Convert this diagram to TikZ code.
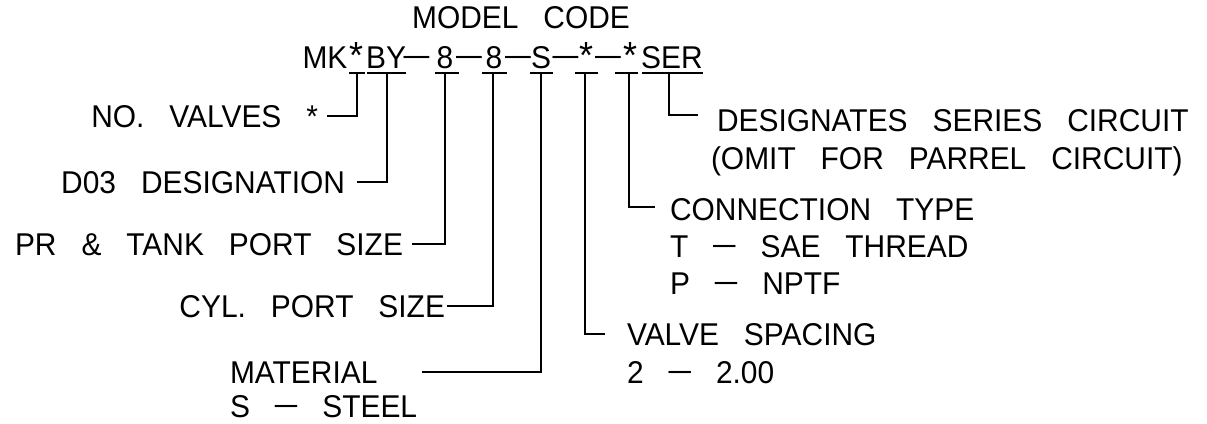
\documentclass[tikz,border=0pt]{standalone}
\usepackage{graphicx}
\usepackage{fontspec}
\setmainfont{Liberation Sans}[FakeStretch=0.95,WordSpace=3.0]
\newcommand\cdash{\raisebox{2.6pt}{\scalebox{1.35}[1]{–}}}
\newcommand\kdash{\raisebox{2.6pt}{\scalebox{1.55}[1]{–}}}
\newcommand\kstar{\scalebox{1.2}{*}}
\tikzset{
  lbl/.style={inner sep=0pt, outer sep=0pt, font=\fontsize{31.5}{36}\selectfont, text=black},
  lead/.style={line width=2pt, black},
  uline/.style={line width=2pt, black}
}
\begin{document}
\begin{tikzpicture}[x=1pt,y=-1pt]
\useasboundingbox[fill=white] (0,0) rectangle (1207,423);

% title
\node[lbl,anchor=base] (title) at (521,28) {MODEL CODE};

% model code tokens
\node[lbl,anchor=base] (mk)  at (325,68)   {MK};
\node[lbl,anchor=base] (c1)  at (356.5,68) {\kstar};
\node[lbl,anchor=base] (by)  at (386,68)   {BY};
\node[lbl,anchor=base] (d1)  at (416.5,68) {\kdash};
\node[lbl,anchor=base] (e1)  at (445,68)   {8};
\node[lbl,anchor=base] (d2)  at (469,68)   {\kdash};
\node[lbl,anchor=base] (e2)  at (494,68)   {8};
\node[lbl,anchor=base] (d3)  at (518,68)   {\kdash};
\node[lbl,anchor=base] (s1)  at (541,68)   {S};
\node[lbl,anchor=base] (d4)  at (565.5,68) {\kdash};
\node[lbl,anchor=base] (c2)  at (586,68)   {\kstar};
\node[lbl,anchor=base] (d5)  at (608,68)   {\kdash};
\node[lbl,anchor=base] (c3)  at (630,68)   {\kstar};
\node[lbl,anchor=base] (ser) at (672,68)   {SER};

% tap points under the code
\coordinate (t1) at (357,72.5);
\coordinate (t2) at (387,72.5);
\coordinate (t3) at (445,72.5);
\coordinate (t4) at (493,72.5);
\coordinate (t5) at (541,72.5);
\coordinate (t6) at (585,72.5);
\coordinate (t7) at (629,72.5);
\coordinate (t8) at (669,72.5);

% underlines
\draw[uline] (349,72.5) -- (365,72.5);
\draw[uline] (367,72.5) -- (406,72.5);
\draw[uline] (435,72.5) -- (459,72.5);
\draw[uline] (482,72.5) -- (507,72.5);
\draw[uline] (530,72.5) -- (553,72.5);
\draw[uline] (575,72.5) -- (598,72.5);
\draw[uline] (615,72.5) -- (638,72.5);
\draw[uline] (642,72.5) -- (703,72.5);

% left labels
\node[lbl,anchor=base east] (nv)  at (318,127) {NO. VALVES *};
\node[lbl,anchor=base east] (dd)  at (345,193) {D03 DESIGNATION};
\node[lbl,anchor=base east] (pr)  at (403,255) {PR \& TANK PORT SIZE};
\node[lbl,anchor=base east] (cyl) at (445,317) {CYL. PORT SIZE};
\node[lbl,anchor=base west] (mat) at (230,383) {MATERIAL};
\node[lbl,anchor=base west] (mat2) at (230,417) {S \cdash{} STEEL};

% right labels
\node[lbl,anchor=base west] (ds)  at (717,131) {DESIGNATES SERIES CIRCUIT};
\node[lbl,anchor=base west] (ds2) at (711,169) {(OMIT FOR PARREL CIRCUIT)};
\node[lbl,anchor=base west] (ct)  at (670,220) {CONNECTION TYPE};
\node[lbl,anchor=base west] (ct2) at (670,257) {T \cdash{} SAE THREAD};
\node[lbl,anchor=base west] (ct3) at (670,294) {P \cdash{} NPTF};
\node[lbl,anchor=base west] (vs)  at (627,345) {VALVE SPACING};
\node[lbl,anchor=base west] (vs2) at (627,383) {2 \cdash{} 2.00};

% leaders
\draw[lead] (t1) |- ([xshift=9pt]nv.east);
\draw[lead] (t2) |- ([xshift=12pt]dd.east);
\draw[lead] (t3) |- ([xshift=9pt]pr.east);
\draw[lead] (t4) |- ([xshift=2pt]cyl.east);
\draw[lead] (t5) |- ([xshift=45pt]mat.east);
\draw[lead] (t6) |- ([xshift=-22pt]vs.west);
\draw[lead] (t7) |- ([xshift=-15pt,yshift=2pt]ct.west);
\draw[lead] (t8) |- ([xshift=-19pt,yshift=5pt]ds.west);
\end{tikzpicture}
\end{document}
